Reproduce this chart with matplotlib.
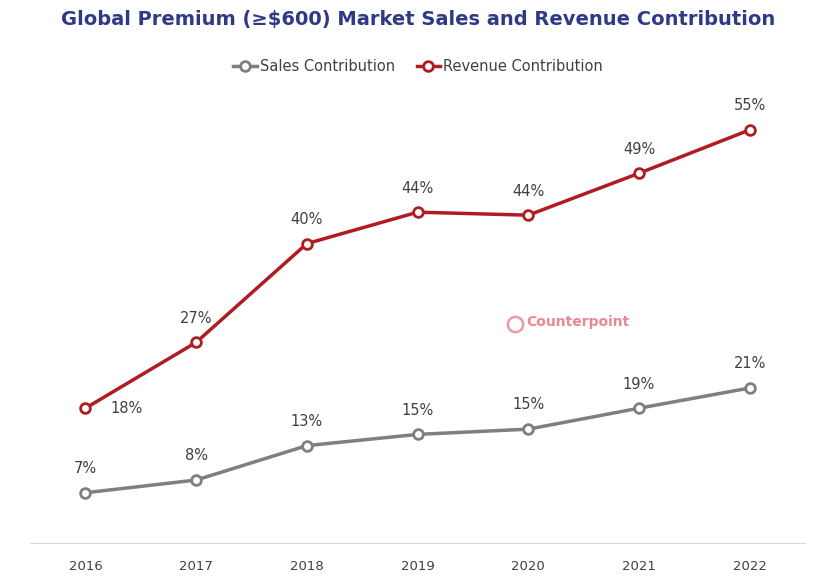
import matplotlib
matplotlib.use("Agg")
import matplotlib.pyplot as plt

years = ["2016", "2017", "2018", "2019", "2020", "2021", "2022"]
sales = [7, 8, 13, 15, 15, 19, 21]
revenue = [18, 27, 40, 44, 44, 49, 55]
sales_y = [6.7, 8.4, 13.0, 14.5, 15.2, 18.0, 20.7]
revenue_y = [18.0, 26.8, 40.0, 44.2, 43.8, 49.4, 55.2]

fig = plt.figure(figsize=(8.36, 5.80), dpi=100)
ax = fig.add_axes([0.036, 0.064, 0.927, 0.774])
x = list(range(len(years)))
gray = "#7f7f7f"
red = "#b01c22"
ax.plot(x, sales_y, color=gray, lw=2.5, marker="o", ms=7, mfc="white", mec=gray, mew=2, label="Sales Contribution")
ax.plot(x, revenue_y, color=red, lw=2.5, marker="o", ms=7, mfc="white", mec=red, mew=2, label="Revenue Contribution")
for i in x:
    ax.annotate(f"{sales[i]}%", (i, sales_y[i]), xytext=(0, 12), textcoords="offset points", ha="center", va="bottom", fontsize=10.5, color="#404040")
    if i == 0:
        ax.annotate(f"{revenue[i]}%", (i, revenue_y[i]), xytext=(18, 0), textcoords="offset points", ha="left", va="center", fontsize=10.5, color="#404040")
    else:
        ax.annotate(f"{revenue[i]}%", (i, revenue_y[i]), xytext=(0, 12), textcoords="offset points", ha="center", va="bottom", fontsize=10.5, color="#404040")
ax.set_xlim(-0.5, 6.5)
ax.set_ylim(0, 60)
ax.set_xticks(x)
ax.set_xticklabels(years, fontsize=9.5, color="#404040")
ax.set_yticks([])
for s in ["top", "right", "left"]:
    ax.spines[s].set_visible(False)
ax.spines["bottom"].set_color("#d9d9d9")
ax.tick_params(axis="x", length=0, pad=12)
ax.plot([3.88], [29.3], marker="o", ms=11, mfc="none", mec="#e88090", mew=1.8, alpha=0.8)
ax.text(3.98, 29.5, "Counterpoint", color="#e06070", alpha=0.75, fontsize=10, fontweight="bold", ha="left", va="center")
fig.text(0.5, 0.967, "Global Premium (≥$600) Market Sales and Revenue Contribution", ha="center", va="center", fontsize=14, fontweight="bold", color="#2e3a87")
fig.legend(loc="center", bbox_to_anchor=(0.5, 0.885), ncol=2, frameon=False, fontsize=10.5, handlelength=1.6, handletextpad=0.2, columnspacing=1.5, labelcolor="#404040")
fig.savefig("out.png")
